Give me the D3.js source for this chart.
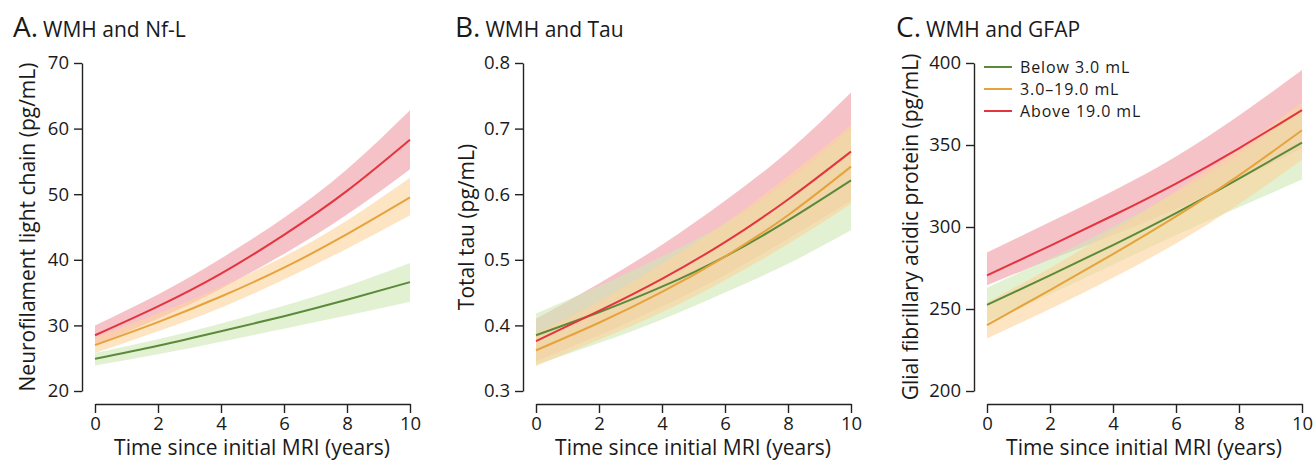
<!DOCTYPE html>
<html>
<head>
<meta charset="utf-8">
<script src="https://cdn.jsdelivr.net/npm/d3@7"></script>
<style>
  body { margin: 0; background: #fff; }
  svg text { font-family: "Open Sans", "Noto Sans", sans-serif; fill: #1a1a1a; }
  .axis path, .axis line { stroke: #222; stroke-width: 1.4; }
  .axis text { font-size: 18.5px; }
</style>
</head>
<body>
<div id="chart"></div>
<script>
// data (years since MRI, estimates + 95% bands)
const years = [0, 2, 4, 6, 8, 10];
const groups = ["Below 3.0 mL", "3.0–19.0 mL", "Above 19.0 mL"];

// A. Nf-L
const nflBelow   = [24.9, 26.9, 29.1, 31.4, 33.9, 36.6];
const nflBelowLo = [23.9, 25.6, 27.5, 29.5, 31.5, 33.6];
const nflBelowHi = [25.8, 27.9, 30.3, 33.0, 36.0, 39.5];
const nflMid     = [27.0, 30.5, 34.4, 38.8, 43.9, 49.5];
const nflMidLo   = [25.8, 29.1, 32.7, 37.0, 41.7, 46.8];
const nflMidHi   = [28.2, 31.8, 35.9, 40.5, 46.0, 52.5];
const nflAbove   = [28.5, 32.9, 37.9, 43.8, 50.5, 58.3];
const nflAboveLo = [27.0, 31.0, 35.6, 40.9, 46.9, 53.8];
const nflAboveHi = [30.0, 34.7, 40.2, 46.4, 53.8, 62.8];

// B. Tau
const tauBelow   = [0.385, 0.420, 0.459, 0.505, 0.560, 0.621];
const tauBelowLo = [0.340, 0.373, 0.409, 0.450, 0.494, 0.545];
const tauBelowHi = [0.418, 0.460, 0.505, 0.555, 0.620, 0.700];
const tauMid     = [0.362, 0.404, 0.451, 0.505, 0.568, 0.642];
const tauMidLo   = [0.338, 0.378, 0.420, 0.469, 0.524, 0.585];
const tauMidHi   = [0.388, 0.437, 0.494, 0.556, 0.628, 0.705];
const tauAbove   = [0.376, 0.422, 0.471, 0.527, 0.592, 0.665];
const tauAboveLo = [0.345, 0.385, 0.429, 0.477, 0.532, 0.590];
const tauAboveHi = [0.410, 0.464, 0.523, 0.590, 0.665, 0.755];

// C. GFAP
const gfapBelow   = [252.5, 270.5, 289.0, 308.5, 329.5, 351.4];
const gfapBelowLo = [242.0, 259.0, 277.0, 295.0, 312.0, 329.0];
const gfapBelowHi = [263.0, 281.0, 300.0, 321.0, 344.0, 372.0];
const gfapMid     = [240.2, 261.5, 283.5, 306.5, 331.5, 359.0];
const gfapMidLo   = [232.0, 250.0, 269.0, 290.0, 314.0, 341.0];
const gfapMidHi   = [254.0, 275.0, 298.0, 322.0, 348.0, 376.0];
const gfapAbove   = [270.5, 288.5, 307.0, 326.5, 348.0, 371.3];
const gfapAboveLo = [264.5, 280.0, 295.0, 311.0, 329.0, 348.0];
const gfapAboveHi = [284.5, 303.0, 322.0, 343.0, 368.0, 395.7];

const xTicks = [0, 2, 4, 6, 8, 10];
const nflTicks = [20, 30, 40, 50, 60, 70];
const tauTicks = [0.3, 0.4, 0.5, 0.6, 0.7, 0.8];
const gfapTicks = [200, 250, 300, 350, 400];

const lineColors = ["#5b8a3a", "#e6a33c", "#e3343f"];
const bandColors = ["#cfe8b4", "#fbd49c", "#f0a2ab"];
const bandOpacity = [0.6, 0.6, 0.65];

const width = 1313, height = 461;
const svg = d3.select("#chart").append("svg")
    .attr("width", width)
    .attr("height", height);

function drawPanel(p) {
    const g = svg.append("g");

    const x = d3.scaleLinear().domain([0, 10]).range([p.x0, p.x0 + 315]);
    const y = d3.scaleLinear().domain(p.yDomain).range([391, 63]);

    // title
    const t = g.append("text").attr("x", p.titleX).attr("y", 37);
    t.append("tspan").attr("font-size", 28).text(p.letter);
    t.append("tspan").attr("font-size", 21).attr("dx", 5).text(p.title);

    // axes (detached)
    g.append("g").attr("class", "axis")
        .attr("transform", `translate(0,404)`)
        .call(d3.axisBottom(x).tickValues(xTicks).tickSize(9).tickSizeOuter(0).tickPadding(4));

    g.append("g").attr("class", "axis")
        .attr("transform", `translate(${p.x0 - 13},0)`)
        .call(d3.axisLeft(y).tickValues(p.yTicks).tickSize(8).tickSizeOuter(0).tickPadding(5)
            .tickFormat(p.fmt));

    g.append("text")
        .attr("x", p.x0 + 157)
        .attr("y", 455)
        .attr("text-anchor", "middle")
        .attr("font-size", 21)
        .text("Time since initial MRI (years)");

    g.append("text")
        .attr("transform", `translate(${p.yTitleX},227) rotate(-90)`)
        .attr("text-anchor", "middle")
        .attr("font-size", 21)
        .text(p.yTitle);

    const area = d3.area()
        .x(d => x(d.t)).y0(d => y(d.lo)).y1(d => y(d.hi))
        .curve(d3.curveNatural);
    const line = d3.line()
        .x(d => x(d.t)).y(d => y(d.v))
        .curve(d3.curveNatural);

    const rows = p.series.map(s => years.map((t, i) => ({ t, v: s.v[i], lo: s.lo[i], hi: s.hi[i] })));

    // bands: red first, then green, orange on top
    [2, 0, 1].forEach(k => {
        g.append("path")
            .attr("d", area(rows[k]))
            .attr("fill", bandColors[k])
            .attr("fill-opacity", bandOpacity[k]);
    });
    [0, 1, 2].forEach(k => {
        g.append("path")
            .attr("d", line(rows[k]))
            .attr("fill", "none")
            .attr("stroke", lineColors[k])
            .attr("stroke-width", 2);
    });
}

drawPanel({
    letter: "A.", title: "WMH and Nf-L", titleX: 13, x0: 95,
    yDomain: [20, 70], yTicks: nflTicks, fmt: d3.format("d"),
    yTitle: "Neurofilament light chain (pg/mL)", yTitleX: 35,
    series: [
        { v: nflBelow, lo: nflBelowLo, hi: nflBelowHi },
        { v: nflMid, lo: nflMidLo, hi: nflMidHi },
        { v: nflAbove, lo: nflAboveLo, hi: nflAboveHi }
    ]
});

drawPanel({
    letter: "B.", title: "WMH and Tau", titleX: 455, x0: 536,
    yDomain: [0.3, 0.8], yTicks: tauTicks, fmt: d3.format(".1f"),
    yTitle: "Total tau (pg/mL)", yTitleX: 474,
    series: [
        { v: tauBelow, lo: tauBelowLo, hi: tauBelowHi },
        { v: tauMid, lo: tauMidLo, hi: tauMidHi },
        { v: tauAbove, lo: tauAboveLo, hi: tauAboveHi }
    ]
});

drawPanel({
    letter: "C.", title: "WMH and GFAP", titleX: 896, x0: 987,
    yDomain: [200, 400], yTicks: gfapTicks, fmt: d3.format("d"),
    yTitle: "Glial fibrillary acidic protein (pg/mL)", yTitleX: 918,
    series: [
        { v: gfapBelow, lo: gfapBelowLo, hi: gfapBelowHi },
        { v: gfapMid, lo: gfapMidLo, hi: gfapMidHi },
        { v: gfapAbove, lo: gfapAboveLo, hi: gfapAboveHi }
    ]
});

// legend in panel C
const legend = svg.append("g").selectAll("g")
    .data(groups)
    .enter().append("g")
    .attr("transform", (d, i) => `translate(984,${67 + i * 22})`);

legend.append("line")
    .attr("x1", 0).attr("x2", 28)
    .attr("stroke", (d, i) => lineColors[i])
    .attr("stroke-width", 2);

legend.append("text")
    .attr("x", 36)
    .attr("dy", "0.36em")
    .attr("font-size", 16)
    .attr("letter-spacing", 0.9)
    .text(d => d);
</script>
</body>
</html>
